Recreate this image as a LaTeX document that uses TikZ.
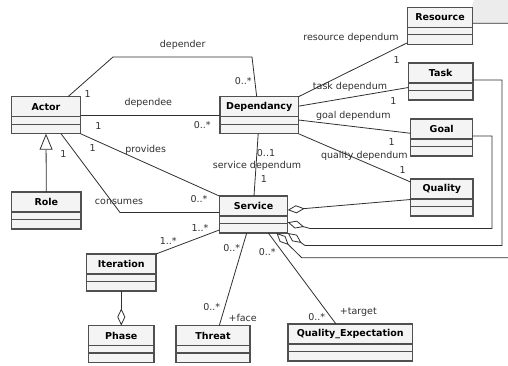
\documentclass[tikz,border=0pt]{standalone}
\usepackage{fontspec}
\setmainfont{DejaVu Sans}
\usetikzlibrary{arrows.meta,positioning}
\definecolor{boxfill}{HTML}{F4F4F4}
\definecolor{boxgray}{HTML}{505050}
\definecolor{linegray}{HTML}{303030}
\definecolor{markgray}{HTML}{ECECEC}

\newcommand{\umlclass}[5]{%
  \node[classbox,minimum width=#4] (#1) at (#2,#3) {};
  \node[classname] at ([yshift=-10pt]#1.north) {#5};
  \draw[classrule] ([yshift=-20pt]#1.north west) -- ([yshift=-20pt]#1.north east);
  \draw[classrule] ([yshift=-27.5pt]#1.north west) -- ([yshift=-27.5pt]#1.north east);}

\begin{document}
\begin{tikzpicture}[x=1pt,y=-1pt,
    classbox/.style={draw=boxgray,fill=boxfill,line width=1.2pt,minimum height=37pt,
                     inner sep=0pt,outer sep=0pt},
    classrule/.style={draw=boxgray,line width=1.2pt},
    classname/.style={font=\fontsize{9.5}{11}\selectfont\bfseries,inner sep=0pt},
    lbl/.style={font=\fontsize{9.5}{11}\selectfont,inner sep=0pt,text=linegray},
    assoc/.style={draw=linegray,line width=0.8pt},
    aggr/.style={assoc,{Diamond[open,length=17pt,width=8pt]}-},
    gener/.style={assoc,-{Triangle[open,length=16pt,width=13pt]}}]
\useasboundingbox (0,0) rectangle (508,365);
\fill[white] (0,0) rectangle (508,365);
\clip (0,0) rectangle (508,365);
\fill[markgray] (474,0) -- (508,0) -- (508,23) -- (472,23) -- (472,6) -- cycle;

\umlclass{actor}{46}{115.2}{69}{Actor}
\umlclass{dep}{259.2}{115.2}{78.5}{Dependancy}
\umlclass{resource}{440}{25.8}{65.4}{Resource}
\umlclass{task}{440.7}{81.5}{64.7}{Task}
\umlclass{goal}{441.7}{137.5}{62}{Goal}
\umlclass{quality}{441.8}{197.5}{62.3}{Quality}
\umlclass{role}{46.3}{210.5}{69.3}{Role}
\umlclass{service}{253.5}{214.5}{68.4}{Service}
\umlclass{iteration}{121.3}{272.5}{69.3}{Iteration}
\umlclass{phase}{121.3}{344}{65.3}{Phase}
\umlclass{threat}{213}{344}{74}{Threat}
\umlclass{qexp}{350.2}{342.5}{124.5}{Quality\_Expectation}

\coordinate (dr1) at (113,57);
\coordinate (dr2) at (252,57);
\coordinate (cs1) at (120,212.5);
\coordinate (gl1) at (492,228.5);
\coordinate (gl2) at (310,228.5);
\coordinate (tk1) at (502,245.5);
\coordinate (tk2) at (305,245.5);
\coordinate (rs1) at (515,257.7);
\coordinate (rs2) at (301.7,257.7);

\draw[assoc] ([xshift=22pt]actor.north) -- (dr1) -- (dr2) -- ([xshift=-2.5pt]dep.north);
\draw[assoc] (actor.east) -- (dep.west);
\draw[assoc] (actor.south east) -- (service.north west);
\draw[assoc] ([xshift=15pt]actor.south) -- (cs1) -- ([yshift=2pt]service.west);
\draw[gener] (role.north) -- (actor.south);
\draw[assoc] ([xshift=-1pt]dep.south) -- ([xshift=0.5pt]service.north);
\draw[assoc] (dep.north east) -- ([yshift=1.5pt]resource.south west);
\draw[assoc] ([yshift=9pt]dep.east) -- ([yshift=-6pt]task.west);
\draw[assoc] ([yshift=-4.8pt]dep.east) -- ([yshift=4.2pt]goal.west);
\draw[assoc] (dep.south east) -- ([yshift=-3pt]quality.north west);
\draw[aggr] ([yshift=4.5pt]service.east) -- ([yshift=-2pt]quality.west);
\draw[aggr] ([yshift=-7.8pt]service.east) -- (gl2) -- (gl1) |- ([yshift=1.5pt]goal.east);
\draw[aggr] (service.south east) -- (tk2) -- (tk1) |- ([yshift=1.5pt]task.east);
\draw[aggr] ([xshift=23pt]service.south) -- (rs2) -- (rs1) |- ([yshift=2.5pt]resource.east);
\draw[assoc] ([yshift=3pt]service.south west) -- (iteration.north east);
\draw[aggr] (phase.north) -- (iteration.south);
\draw[assoc] ([xshift=-6.8pt]service.south) -- ([xshift=6.3pt]threat.north);
\draw[assoc] ([xshift=14.8pt]service.south) -- ([xshift=-14.2pt]qexp.north);

\node[lbl] at (182.7,45) {depender};
\node[lbl] at (87.7,94) {1};
\node[lbl] at (243.3,80.7) {0..*};
\node[lbl] at (148.3,103.3) {dependee};
\node[lbl] at (98.3,126) {1};
\node[lbl] at (202.3,125) {0..*};
\node[lbl] at (145.7,150) {provides};
\node[lbl] at (92.7,148.3) {1};
\node[lbl] at (199,199.3) {0..*};
\node[lbl] at (119,201.7) {consumes};
\node[lbl] at (63.3,154) {1};
\node[lbl] at (266,153) {0..1};
\node[lbl] at (257,166) {service dependum};
\node[lbl] at (264,179) {1};
\node[lbl] at (351,38.3) {resource dependum};
\node[lbl] at (396.7,60) {1};
\node[lbl] at (350,86.7) {task dependum};
\node[lbl] at (393.3,100.7) {1};
\node[lbl] at (353.3,116) {goal dependum};
\node[lbl] at (391.7,141.7) {1};
\node[lbl] at (364.3,156) {quality dependum};
\node[lbl] at (402.7,170) {1};
\node[lbl] at (200,227.7) {1..*};
\node[lbl] at (168.3,240.7) {1..*};
\node[lbl] at (231.7,247.7) {0..*};
\node[lbl] at (211.7,306.7) {0..*};
\node[lbl] at (242.7,317.7) {+face};
\node[lbl] at (267.3,251.7) {0..*};
\node[lbl] at (316.7,316.7) {0..*};
\node[lbl] at (358.3,311.7) {+target};
\end{tikzpicture}
\end{document}
